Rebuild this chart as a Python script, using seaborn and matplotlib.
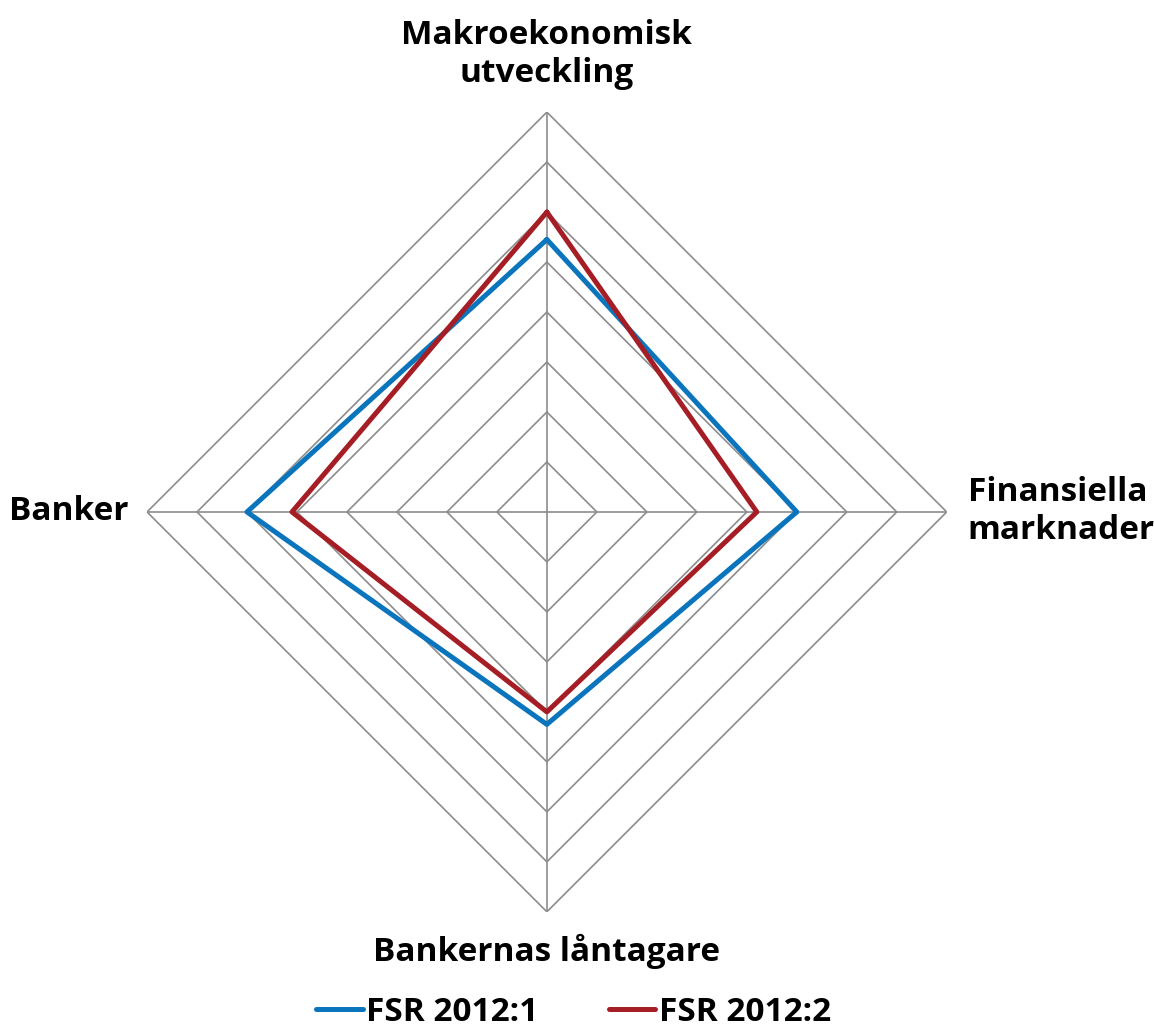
import numpy as np
import pandas as pd
import matplotlib
matplotlib.use('Agg')
import matplotlib.pyplot as plt
import seaborn as sns
from matplotlib.lines import Line2D

sns.set_theme(style='white')
plt.rcParams['font.family'] = ['Open Sans', 'DejaVu Sans']
plt.rcParams['text.color'] = 'black'

# data
categories = ['Makroekonomisk\nutveckling', 'Finansiella\nmarknader', 'Bankernas låntagare', 'Banker']
series_names = ['FSR 2012:1', 'FSR 2012:2']
fsr_2012_1 = [5.45, 5.0, 4.25, 6.0]
fsr_2012_2 = [6.0, 4.2, 4.0, 5.1]
ring_levels = [1, 2, 3, 4, 5, 6, 7, 8]
colors = ['#0A75BC', '#A61E25']

n = len(categories)
angles = np.linspace(0, 2 * np.pi, n, endpoint=False)
closed = np.append(angles, 2 * np.pi)

rows = []
for name, vals in zip(series_names, [fsr_2012_1, fsr_2012_2]):
    vv = list(vals) + [vals[0]]
    for i, (a, v) in enumerate(zip(closed, vv)):
        rows.append({'series': name, 'theta': a, 'value': v, 'order': i})
df = pd.DataFrame(rows)

fig = plt.figure(figsize=(11.54, 10.27), dpi=100)
ax = fig.add_axes([0.1274, 0.112, 0.693, 0.779], projection='polar')
ax.set_theta_offset(np.pi / 2)
ax.set_theta_direction(-1)

grid_col = '#8C8C8C'
for r in ring_levels:
    ax.plot(closed, [r] * len(closed), color=grid_col, lw=1.2, zorder=1)
for a in angles:
    ax.plot([a, a], [0, ring_levels[-1]], color=grid_col, lw=1.2, zorder=1)

sns.lineplot(data=df, x='theta', y='value', hue='series', units='series',
             estimator=None, sort=False, palette=colors, linewidth=3.6,
             ax=ax, legend=False, zorder=3)
ax.set_xlabel('')
ax.set_ylabel('')
ax.set_ylim(0, 8)
ax.axis('off')

fs = 24
ax.text(angles[0], 8.45, categories[0], ha='center', va='bottom', fontsize=fs,
        fontweight='bold', linespacing=1.2)
ax.text(angles[1], 8.42, categories[1], ha='left', va='center', fontsize=fs,
        fontweight='bold', linespacing=1.2)
ax.text(angles[2], 8.45, categories[2], ha='center', va='top', fontsize=fs,
        fontweight='bold')
ax.text(angles[3], 8.38, categories[3], ha='right', va='center', fontsize=fs,
        fontweight='bold')

handles = [Line2D([0], [0], color=c, lw=3.6) for c in colors]
fig.legend(handles, series_names, loc='center', bbox_to_anchor=(0.497, 0.014),
           ncol=2, frameon=False, handlelength=1.4, handletextpad=0.1,
           columnspacing=2.1, prop={'size': fs, 'weight': 'bold'})

fig.savefig('out.png', dpi=100, facecolor='white')
